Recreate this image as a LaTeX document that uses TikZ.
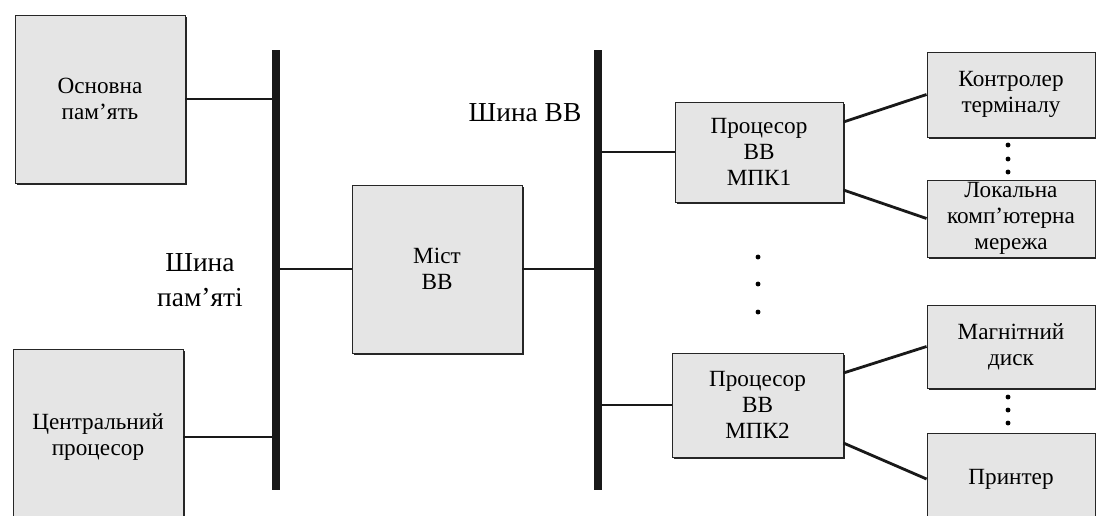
\documentclass[tikz,border=0pt]{standalone}
\usepackage{fontspec}
\setmainfont{Liberation Serif}
\usetikzlibrary{shadows}
\begin{document}
\begin{tikzpicture}[x=0.025cm,y=-0.025cm,
  blk/.style={draw=black!85,line width=0.6pt,fill=black!10,align=center,inner sep=0pt,
    font=\fontsize{16.5}{18.5}\selectfont,
    drop shadow={shadow xshift=1.4pt,shadow yshift=-1.4pt,fill=black!85,opacity=1}},
  bus/.style={line width=5pt,black!90},
  link/.style={line width=2pt,black!90},
  lbl/.style={font=\fontsize{19.5}{25}\selectfont,align=center,inner sep=0pt},
  dot/.style={circle,fill=black,inner sep=0pt,minimum size=3.5pt}]
\useasboundingbox (0,0) rectangle (1096,515);
% buses
\coordinate (mbT) at (276,50); \coordinate (mbB) at (276,490);
\coordinate (ioT) at (598,50); \coordinate (ioB) at (598,490);
% blocks
\node[blk,minimum width=4.25cm,minimum height=4.2cm] (mem) at (100,99) {Основна\\пам’ять};
\node[blk,minimum width=4.25cm,minimum height=4.375cm] (cpu) at (98,437) {Центральний\\процесор};
\node[blk,minimum width=4.25cm,minimum height=4.2cm] (bridge) at (437,269) {Міст\\ВВ};
\node[blk,minimum width=4.2cm,minimum height=2.5cm] (mpk1) at (759,152) {Процесор\\ВВ\\МПК1};
\node[blk,minimum width=4.275cm,minimum height=2.6cm] (mpk2) at (757.5,405) {Процесор\\ВВ\\МПК2};
\node[blk,minimum width=4.2cm,minimum height=2.125cm] (term) at (1011,94.5) {Контролер\\терміналу};
\node[blk,minimum width=4.2cm,minimum height=1.925cm] (lan) at (1011,218.5) {Локальна\\комп’ютерна\\мережа};
\node[blk,minimum width=4.2cm,minimum height=2.075cm] (disk) at (1011,346.5) {Магнітний\\диск};
\node[blk,minimum width=4.2cm,minimum height=2.3cm] (prn) at (1011,479) {Принтер};
% bus lines
\draw[bus] (mbT) -- (mbB);
\draw[bus] (ioT) -- (ioB);
% labels
\node[lbl] (lmem) at (200,280) {Шина\\пам’яті};
\node[lbl] (lio) at (525,113) {Шина ВВ};
% connectors
\draw[link] (mem.east) -- (mem.east -| mbT);
\draw[link] (cpu.east) -- (cpu.east -| mbT);
\draw[link] (bridge.west) -- (bridge.west -| mbT);
\draw[link] (bridge.east) -- (bridge.east -| ioT);
\draw[link] (mpk1.west) -- (mpk1.west -| ioT);
\draw[link] (mpk2.west) -- (mpk2.west -| ioT);
\draw[link] ([yshift=0.75cm]mpk1.east) -- (term.west);
\draw[link] ([yshift=-0.95cm]mpk1.east) -- (lan.west);
\draw[link] ([yshift=0.8cm]mpk2.east) -- (disk.west);
\draw[link] ([yshift=-0.95cm]mpk2.east) -- (prn.west);
% dots
\node[dot] (d1) at (1008,145) {}; \node[dot] (d2) at (1008,159) {}; \node[dot] (d3) at (1008,172) {};
\node[dot] (d4) at (1008,397) {}; \node[dot] (d5) at (1008,410) {}; \node[dot] (d6) at (1008,423) {};
\node[dot] (d7) at (758,257) {}; \node[dot] (d8) at (758,284) {}; \node[dot] (d9) at (758,312) {};
\end{tikzpicture}
\end{document}
